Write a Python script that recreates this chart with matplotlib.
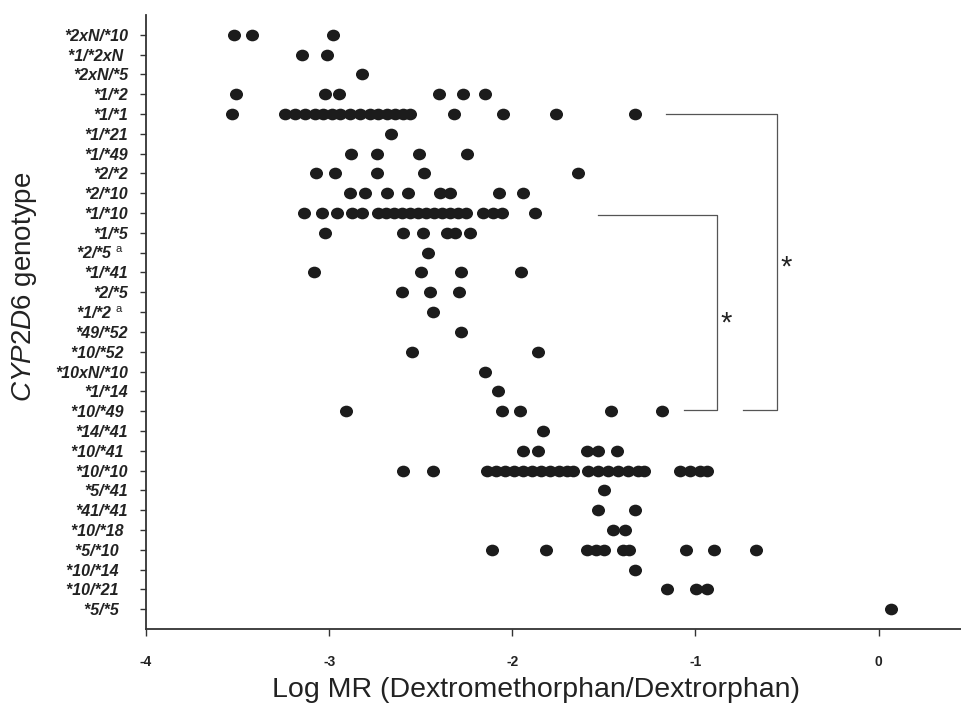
import matplotlib
matplotlib.use("Agg")
import matplotlib.pyplot as plt
import numpy as np
from matplotlib.path import Path
from matplotlib.transforms import Affine2D

plt.rcParams['font.family'] = ['Liberation Sans', 'DejaVu Sans']
plt.rcParams['mathtext.fontset'] = 'custom'
plt.rcParams['mathtext.rm'] = 'Liberation Sans'
plt.rcParams['mathtext.it'] = 'Liberation Sans:italic'
plt.rcParams['mathtext.bf'] = 'Liberation Sans:bold'

# ---- data ----
genotypes = ["*2xN/*10", "*1/*2xN ", "*2xN/*5", "*1/*2", "*1/*1", "*1/*21", "*1/*49",
             "*2/*2", "*2/*10", "*1/*10", "*1/*5", "*2/*5 $^{\\rm a}$  ", "*1/*41", "*2/*5",
             "*1/*2 $^{\\rm a}$  ", "*49/*52", "*10/*52 ", "*10xN/*10", "*1/*14", "*10/*49 ",
             "*14/*41", "*10/*41 ", "*10/*10", "*5/*41", "*41/*41", "*10/*18 ", "*5/*10  ",
             "*10/*14  ", "*10/*21  ", "*5/*5  "]

log_mr = [
    [-3.52, -3.42, -2.98],                                   # *2xN/*10
    [-3.15, -3.01],                                          # *1/*2xN
    [-2.82],                                                 # *2xN/*5
    [-3.51, -3.02, -2.945, -2.40, -2.27, -2.15],             # *1/*2
    [-3.53, -3.241, -3.187, -3.132, -3.078, -3.032, -2.986, -2.941, -2.886,
     -2.832, -2.777, -2.732, -2.686, -2.641, -2.595, -2.559, -2.32, -2.05,
     -1.76, -1.33],                                          # *1/*1
    [-2.66],                                                 # *1/*21
    [-2.88, -2.74, -2.51, -2.25],                            # *1/*49
    [-3.07, -2.97, -2.74, -2.48, -1.64],                     # *2/*2
    [-2.886, -2.805, -2.683, -2.568, -2.395, -2.341, -2.073, -1.944],  # *2/*10
    [-3.138, -3.041, -2.959, -2.877, -2.823, -2.734, -2.690, -2.646, -2.603,
     -2.559, -2.515, -2.472, -2.428, -2.384, -2.341, -2.297, -2.253, -2.159,
     -2.106, -2.057, -1.877],                                # *1/*10
    [-3.023, -2.596, -2.486, -2.359, -2.313, -2.231],       # *1/*5
    [-2.46],                                                 # *2/*5 a
    [-3.08, -2.50, -2.28, -1.955],                           # *1/*41
    [-2.60, -2.45, -2.29],                                   # *2/*5
    [-2.435],                                                # *1/*2 a
    [-2.28],                                                 # *49/*52
    [-2.55, -1.86],                                          # *10/*52
    [-2.15],                                                 # *10xN/*10
    [-2.08],                                                 # *1/*14
    [-2.91, -2.055, -1.96, -1.46, -1.18],                    # *10/*49
    [-1.83],                                                 # *14/*41
    [-1.94, -1.86, -1.59, -1.53, -1.43],                     # *10/*41
    [-2.595, -2.432, -2.139, -2.090, -2.040, -1.991, -1.942, -1.893, -1.844,
     -1.795, -1.746, -1.702, -1.669, -1.586, -1.531, -1.477, -1.422, -1.367,
     -1.313, -1.282, -1.085, -1.031, -0.976, -0.938],        # *10/*10
    [-1.50],                                                 # *5/*41
    [-1.53, -1.33],                                          # *41/*41
    [-1.449, -1.385],                                        # *10/*18
    [-2.113, -1.817, -1.594, -1.544, -1.498, -1.398, -1.362, -1.052, -0.900,
     -0.672],                                                # *5/*10
    [-1.331],                                                # *10/*14
    [-1.154, -0.998, -0.936],                                # *10/*21
    [0.07],                                                  # *5/*5
]

x_ticks = [-4, -3, -2, -1, 0]
x_ticklabels = ["-4", "-3", "-2", "-1", "0"]

# ---- figure ----
fig = plt.figure(figsize=(9.61, 7.05), dpi=100)
ax = fig.add_axes([146/961, 76/705, 815/961, 614/705])

# ellipse marker (slightly wider than tall)
circ = Path.unit_circle()
ell = Affine2D().scale(1.12, 1.0).transform_path(circ)

for i, vals in enumerate(log_mr):
    ax.plot(vals, [i]*len(vals), linestyle='none', marker=ell, markersize=9.4,
            color='#1c1c1c', markeredgewidth=0)

ax.set_xlim(-4, 0.45)
ax.set_ylim(len(genotypes), -1)

ax.set_xticks(x_ticks)
ax.set_xticklabels(x_ticklabels, fontsize=10, fontweight='bold', color='#222222')
ax.set_yticks(range(len(genotypes)))
ax.set_yticklabels(genotypes, fontsize=11.5, fontweight='bold', fontstyle='italic',
                   color='#222222')
ax.tick_params(axis='x', direction='out', length=5, width=1.0, color='#333333', pad=14)
ax.tick_params(axis='y', direction='out', length=4, width=1.0, color='#333333', pad=9)

for s in ['top', 'right']:
    ax.spines[s].set_visible(False)
for s in ['left', 'bottom']:
    ax.spines[s].set_linewidth(1.3)
    ax.spines[s].set_color('#333333')

ax.set_xlabel("Log MR (Dextromethorphan/Dextrorphan)", fontsize=20.5, color='#222222')
ax.xaxis.set_label_coords(0.479, -0.078)
ax.set_ylabel(r"$\mathit{CYP2D6}$ genotype", fontsize=20, color='#222222')
ax.yaxis.set_label_coords(-0.131, 0.557)

# significance brackets
lc = '#555555'
ax.plot([-1.53, -0.88, -0.88, -1.06], [9.1, 9.1, 18.95, 18.95], color=lc, lw=0.9,
        clip_on=False)
ax.plot([-1.16, -0.555, -0.555, -0.74], [4.0, 4.0, 18.95, 18.95], color=lc, lw=0.9,
        clip_on=False)
ax.text(-0.83, 14.6, "*", fontsize=21, ha='center', va='center', color='#222222')
ax.text(-0.505, 11.75, "*", fontsize=21, ha='center', va='center', color='#222222')

fig.savefig("out.png", dpi=100)
